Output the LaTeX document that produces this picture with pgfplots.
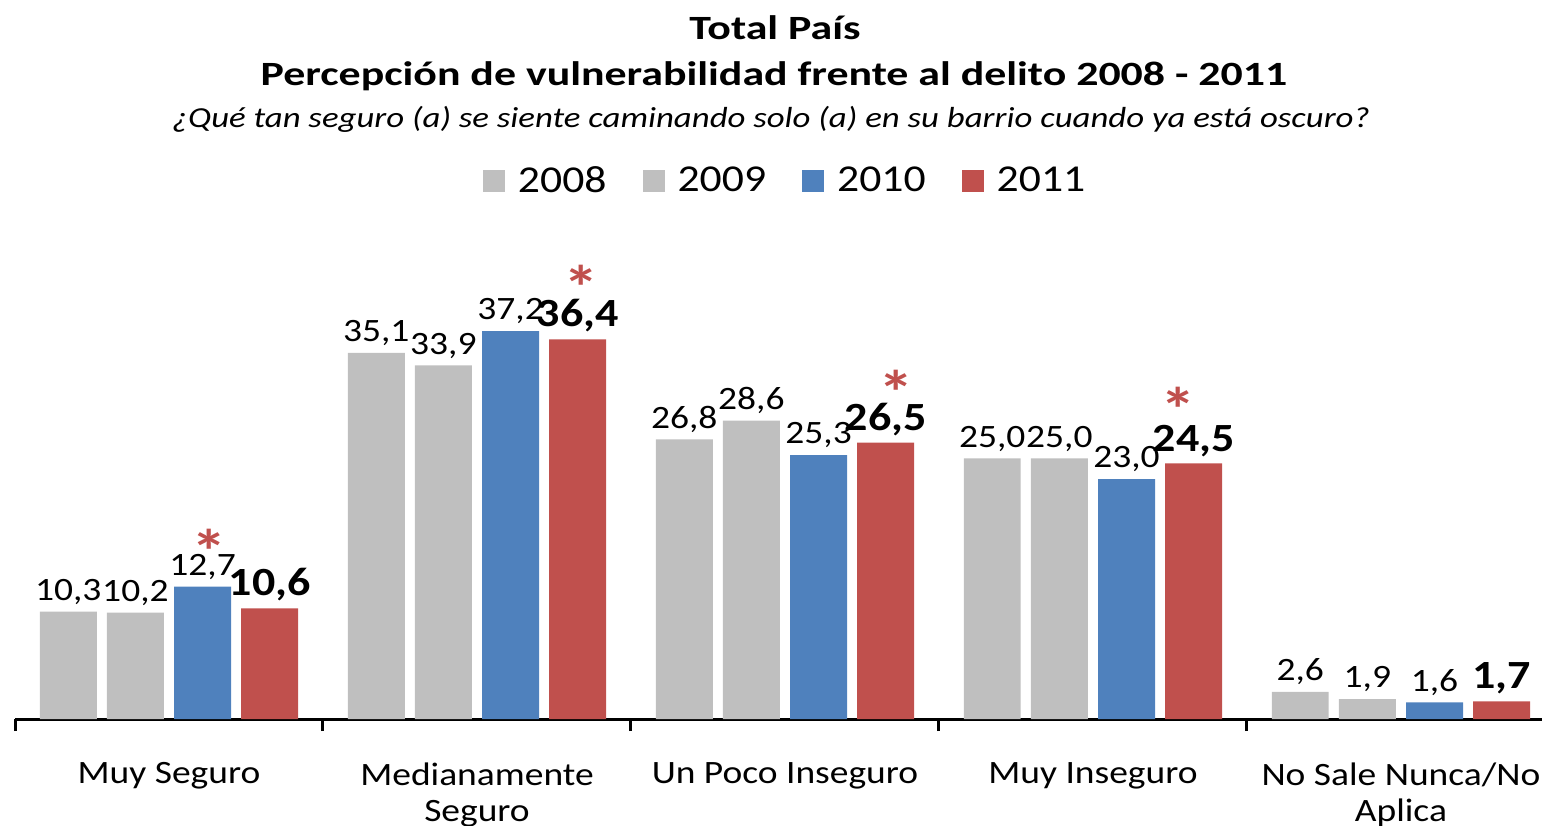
\documentclass[border=0pt]{standalone}
\usepackage{fontspec}
\setmainfont[FakeStretch=1.15]{Carlito}
\newfontfamily\titlefont[FakeStretch=1.29]{Carlito}
\newfontfamily\qfont[FakeStretch=1.2]{Carlito}
\usepackage{pgfplots}
\pgfplotsset{compat=1.18}
\definecolor{cgray}{HTML}{BFBFBF}
\definecolor{cblue}{HTML}{4F81BD}
\definecolor{cred}{HTML}{C0504D}
\begin{document}
\begin{tikzpicture}
\useasboundingbox (0,0) rectangle (771pt,-412.5pt);
\node[font=\titlefont\fontsize{17}{20}\selectfont\bfseries] at (387.5pt,-14pt) {Total País};
\node[font=\titlefont\fontsize{17}{20}\selectfont\bfseries] at (387pt,-38pt) {Percepción de vulnerabilidad frente al delito 2008 - 2011};
\node[font=\qfont\fontsize{14.5}{17}\selectfont\itshape] at (385.5pt,-59.5pt) {¿Qué tan seguro (a) se siente caminando solo (a) en su barrio cuando ya está oscuro?};
\begin{axis}[
  at={(7.5pt,-359.5pt)}, anchor=south west,
  scale only axis, width=763.5pt, height=208.6pt,
  xmin=-0.5, xmax=4.458, ymin=0, ymax=40,
  clip=false,
  ybar, bar width=0.185,
  axis x line=bottom, axis y line=none, ytick=\empty,
  x axis line style={-, line width=1.5pt, black},
  xtick={0,1,2,3,4},
  xticklabels={Muy Seguro, {Medianamente\\Seguro}, Un Poco Inseguro, Muy Inseguro, {No Sale Nunca/No\\Aplica}},
  major x tick style={draw=none},
  minor xtick={-0.5,0.5,1.5,2.5,3.5,4.5},
  minor tick length=6pt, tick align=outside,
  minor x tick style={line width=1.5pt, black},
  xticklabel style={align=center, font=\fontsize{16.3}{18}\selectfont, yshift=-14pt},
  nodes near coords,
  /pgf/number format/.cd, use comma, fixed, fixed zerofill, precision=1, assume math mode=true,
  /pgfplots/.cd,
  every node near coord/.append style={font=\fontsize{16.3}{18}\selectfont, black},
  legend columns=4,
  legend style={at={(0.505,1.29)}, anchor=center, draw=none, fill=none,
    font=\fontsize{19}{23}\selectfont,
    /tikz/every odd column/.append style={column sep=4.5pt},
    /tikz/every even column/.append style={column sep=16pt}},
  legend image code/.code={\fill[#1] (0pt,-5.5pt) rectangle (11pt,5.5pt);},
]
\addplot[fill=cgray, draw=none, bar shift=-0.327] coordinates {(0,10.3) (1,35.1) (2,26.8) (3,25.0) (4,2.6)};
\addplot[fill=cgray, draw=none, bar shift=-0.109] coordinates {(0,10.2) (1,33.9) (2,28.6) (3,25.0) (4,1.9)};
\addplot[fill=cblue, draw=none, bar shift=0.109] coordinates {(0,12.7) (1,37.2) (2,25.3) (3,23.0) (4,1.6)};
\addplot[fill=cred, draw=none, bar shift=0.327,
  every node near coord/.append style={font=\fontsize{20}{24}\selectfont\bfseries}] coordinates {(0,10.6) (1,36.4) (2,26.5) (3,24.5) (4,1.7)};
\legend{2008,2009,2010,2011}
\tikzset{ast/.style={text=cred, font=\fontsize{31}{31}\selectfont\bfseries, yshift=-6.5pt, inner sep=0pt}}
\node[ast] at (axis cs:0.13,17.35) {*};
\node[ast] at (axis cs:1.338,42.6) {*};
\node[ast] at (axis cs:2.36,32.6) {*};
\node[ast] at (axis cs:3.276,30.9) {*};
\end{axis}
\end{tikzpicture}
\end{document}
